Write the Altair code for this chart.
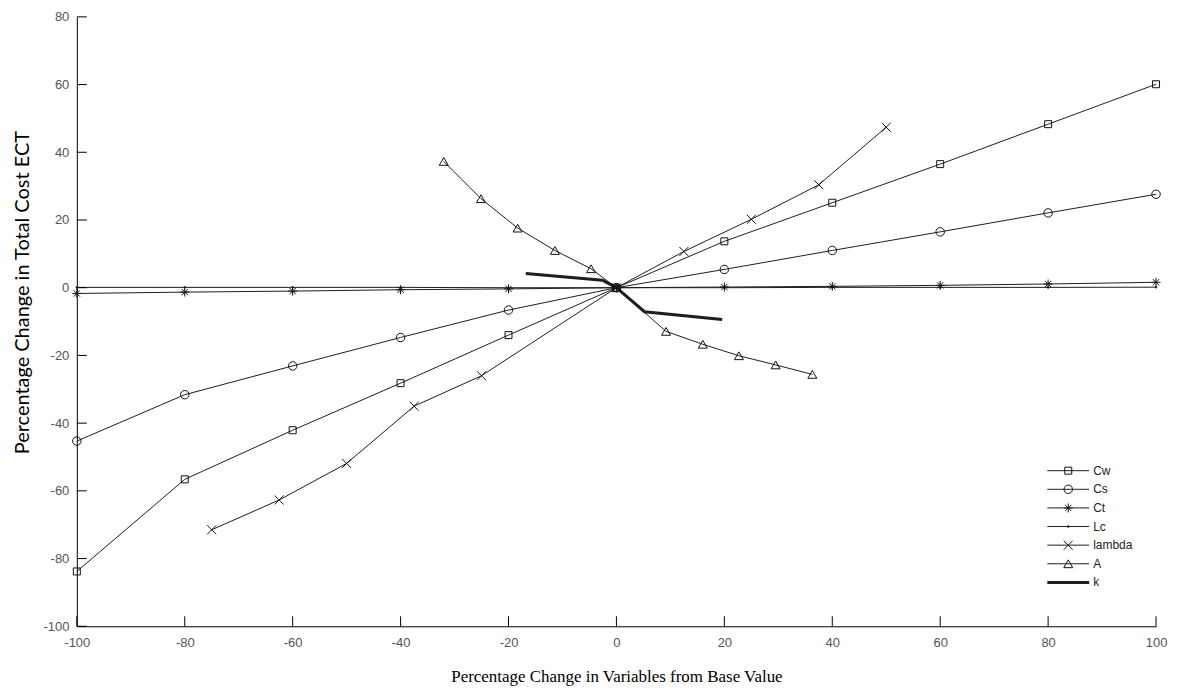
import altair as alt
import pandas as pd

# ---- data ----
series_names = ["Cw", "Cs", "Ct", "Lc", "lambda", "A", "k"]

x_std = [-100, -80, -60, -40, -20, 0, 20, 40, 60, 80, 100]
cw_vals = [-83.8, -56.6, -42.1, -28.2, -14.0, 0, 13.7, 25.1, 36.5, 48.3, 60.1]
cs_vals = [-45.3, -31.6, -23.1, -14.7, -6.6, 0, 5.4, 11.0, 16.5, 22.1, 27.6]
ct_vals = [-1.7, -1.3, -1.0, -0.6, -0.35, 0, 0.2, 0.4, 0.7, 1.1, 1.6]
lc_vals = [0.1, 0.1, 0.1, 0.1, 0.0, 0, 0.0, 0.1, 0.1, 0.1, 0.15]

x_lambda = [-75, -62.5, -50, -37.5, -25, 0, 12.5, 25, 37.5, 50]
lambda_vals = [-71.5, -62.7, -51.9, -35.0, -26.0, 0, 10.7, 20.2, 30.4, 47.4]

x_a = [-32.0, -25.1, -18.3, -11.4, -4.7, 0, 9.2, 16.0, 22.7, 29.5, 36.3]
a_vals = [37.3, 26.3, 17.6, 11.0, 5.6, 0, -12.9, -16.7, -20.1, -22.8, -25.6]

x_k = [-16.8, -2.6, 0, 5.2, 19.6]
k_vals = [4.2, 2.2, 0, -7.1, -9.4]

x_ticks = [-100, -80, -60, -40, -20, 0, 20, 40, 60, 80, 100]
y_ticks = [-100, -80, -60, -40, -20, 0, 20, 40, 60, 80]

# ---- tables ----
rows = []
for name, xs, ys in [("Cw", x_std, cw_vals), ("Cs", x_std, cs_vals),
                     ("Ct", x_std, ct_vals), ("Lc", x_std, lc_vals),
                     ("lambda", x_lambda, lambda_vals), ("A", x_a, a_vals),
                     ("k", x_k, k_vals)]:
    for xv, yv in zip(xs, ys):
        rows.append({"series": name, "x": xv, "y": yv})
df = pd.DataFrame(rows)
legend_df = pd.DataFrame({"series": series_names, "row": list(range(len(series_names)))})
xt_df = pd.DataFrame({"x": x_ticks})
yt_df = pd.DataFrame({"y": y_ticks})

PLOT_W, PLOT_H = 1082, 611

STAR = "M0,-1L0,1M-1,0L1,0M-0.7,-0.7L0.7,0.7M-0.7,0.7L0.7,-0.7"
XMARK = "M-1,-1L1,1M-1,1L1,-1"
shape_scale = alt.Scale(domain=series_names,
                        range=["square", "circle", STAR, "circle", XMARK, "triangle-up", "circle"])
size_scale = alt.Scale(type="ordinal", domain=series_names, range=[49, 72, 81, 3, 81, 81, 0])
width_scale = alt.Scale(type="ordinal", domain=series_names, range=[1, 1, 1, 1, 1, 1, 3])

TICK_FONT = "Liberation Sans"

x_axis = alt.Axis(values=x_ticks, labelExpr="'' + datum.value", grid=False, ticks=False, tickSize=0,
                  domainColor="black", domainWidth=1, labelFont=TICK_FONT, labelFontSize=13,
                  labelColor="#555", labelPadding=10, labelFlush=False, labelOverlap=False,
                  titleFont="Liberation Serif", titleFontSize=17, titleFontWeight="normal",
                  titleColor="black", titleBaseline="middle", titleY=50, titleX=541,
                  titleAlign="center")
y_axis = alt.Axis(values=y_ticks, labelExpr="'' + datum.value", grid=False, ticks=False, tickSize=0,
                  domainColor="black", domainWidth=1, labelFont=TICK_FONT, labelFontSize=13,
                  labelColor="#555", labelPadding=8, labelOverlap=False, labelFlush=False,
                  titleFont="Lato", titleFontSize=20, titleFontWeight="normal", titleColor="black",
                  titleAngle=270, titleBaseline="middle", titleX=-54, titleY=276, titleAlign="center")

X = alt.X("x:Q", scale=alt.Scale(domain=[-100, 100], nice=False, zero=False), axis=x_axis,
          title="Percentage Change in Variables from Base Value")
Y = alt.Y("y:Q", scale=alt.Scale(domain=[-100, 80], nice=False, zero=False), axis=y_axis,
          title="Percentage Change in Total Cost ECT")

base = alt.Chart(df)
lines = base.mark_line(color="#1e1e1e").encode(
    x=X, y=Y, detail="series:N",
    strokeWidth=alt.StrokeWidth("series:N", scale=width_scale, legend=None))
points = base.transform_filter("datum.series != 'k'").mark_point(
    filled=False, color="#111", strokeWidth=1, opacity=1).encode(
    x=X, y=Y,
    shape=alt.Shape("series:N", scale=shape_scale, legend=None),
    size=alt.Size("series:N", scale=size_scale, legend=None))
ytick = alt.Chart(yt_df).mark_rule(color="black", strokeWidth=1).encode(
    y=Y, x=alt.value(0), x2=alt.value(10))
xtick = alt.Chart(xt_df).mark_rule(color="black", strokeWidth=1).encode(
    x=X, y=alt.value(PLOT_H), y2=alt.value(PLOT_H - 10))

LY = alt.Y("row:Q", scale=alt.Scale(domain=[0, 6], range=[455, 567]), axis=None)
leg_line = alt.Chart(legend_df).mark_rule(color="#1e1e1e").encode(
    y=LY, x=alt.value(973), x2=alt.value(1015),
    strokeWidth=alt.StrokeWidth("series:N", scale=width_scale, legend=None))
leg_pts = alt.Chart(legend_df).transform_filter("datum.series != 'k'").mark_point(
    filled=False, color="#111", strokeWidth=1, opacity=1).encode(
    y=LY, x=alt.value(994),
    shape=alt.Shape("series:N", scale=shape_scale, legend=None),
    size=alt.Size("series:N", scale=size_scale, legend=None))
leg_txt = alt.Chart(legend_df).mark_text(
    align="left", baseline="middle", font="Liberation Sans", fontSize=12, color="#222").encode(
    y=LY, x=alt.value(1019), text="series:N")

main = alt.layer(lines, points, ytick, xtick)
legend = alt.layer(leg_line, leg_pts, leg_txt)

chart = alt.layer(main, legend).resolve_scale(y="independent").properties(
    width=PLOT_W, height=PLOT_H,
    padding={"left": 69, "top": 8, "right": 14, "bottom": 59},
    autosize=alt.AutoSizeParams(type="none"),
    background="white",
).configure_view(stroke=None)

chart.save("out.html", embed_options={"renderer": "svg", "actions": False})
